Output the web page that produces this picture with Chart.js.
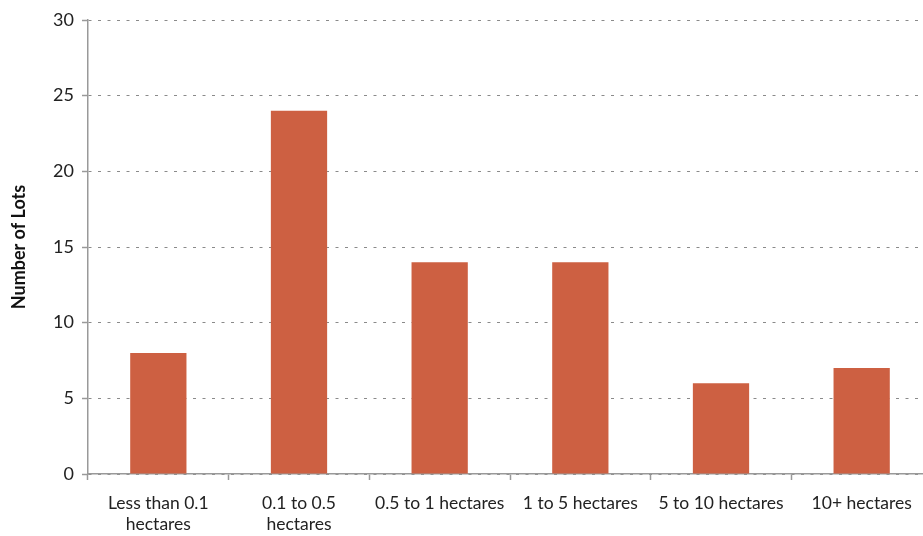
<!DOCTYPE html>
<html>
<head>
<meta charset="utf-8">
<script src="https://cdn.jsdelivr.net/npm/chart.js@4/dist/chart.umd.min.js"></script>
<style>
  html, body { margin: 0; padding: 0; background: #fff; overflow: hidden; }
  #wrap { width: 932px; height: 536px; position: relative; }
</style>
</head>
<body>
<div id="wrap"><canvas id="c"></canvas></div>
<script>
// Lot size classes and number of lots in each
const categories = [
  ['Less than 0.1', 'hectares'],
  ['0.1 to 0.5', 'hectares'],
  '0.5 to 1 hectares',
  '1 to 5 hectares',
  '5 to 10 hectares',
  '10+ hectares'
];
const lotCounts = [8, 24, 14, 14, 6, 7];
const yTicks = [0, 5, 10, 15, 20, 25, 30];
const yTitle = 'Number of Lots';

const FONT = 'Lato, "Open Sans", sans-serif';

// Rotated y-axis title, drawn beside the tick labels
const yTitlePlugin = {
  id: 'yTitle',
  afterDraw(chart) {
    const { ctx, chartArea } = chart;
    ctx.save();
    ctx.translate(19, (chartArea.top + chartArea.bottom) / 2);
    ctx.rotate(-Math.PI / 2);
    ctx.font = `bold 18px ${FONT}`;
    ctx.fillStyle = '#111';
    ctx.textAlign = 'center';
    ctx.textBaseline = 'middle';
    ctx.fillText(yTitle, 0, 0);
    ctx.restore();
  }
};

new Chart(document.getElementById('c'), {
  type: 'bar',
  data: {
    labels: categories,
    datasets: [{
      label: yTitle,
      data: lotCounts,
      backgroundColor: '#CD6042',
      borderWidth: 0,
      barPercentage: 0.4,
      categoryPercentage: 1.0
    }]
  },
  options: {
    responsive: true,
    maintainAspectRatio: false,
    animation: false,
    layout: { padding: { top: 20, left: 0, right: 0, bottom: 0 } },
    plugins: {
      legend: { display: false },
      tooltip: { enabled: false }
    },
    scales: {
      x: {
        grid: {
          offset: true,
          drawOnChartArea: false,
          drawTicks: true,
          tickLength: 6,
          tickColor: '#999',
          tickWidth: 1.5
        },
        border: { color: '#999', width: 1.5 },
        ticks: {
          color: '#222',
          font: { family: FONT, size: 17.5, lineHeight: 1.25 },
          maxRotation: 0,
          autoSkip: false,
          padding: 12
        },
        afterFit(scale) { scale.height = 62; }
      },
      y: {
        min: 0,
        max: 30,
        afterBuildTicks(scale) { scale.ticks = yTicks.map(v => ({ value: v })); },
        grid: {
          color: '#8a8a8a',
          lineWidth: 1,
          drawTicks: true,
          tickLength: 6,
          tickColor: '#999',
          tickWidth: 1.5,
          tickBorderDash: []
        },
        border: { color: '#999', width: 1.5, dash: [3, 6.5] },
        ticks: {
          color: '#222',
          font: { family: FONT, size: 18 },
          padding: 8
        },
        afterFit(scale) { scale.width = 88; }
      }
    }
  },
  plugins: [yTitlePlugin]
});
</script>
</body>
</html>
